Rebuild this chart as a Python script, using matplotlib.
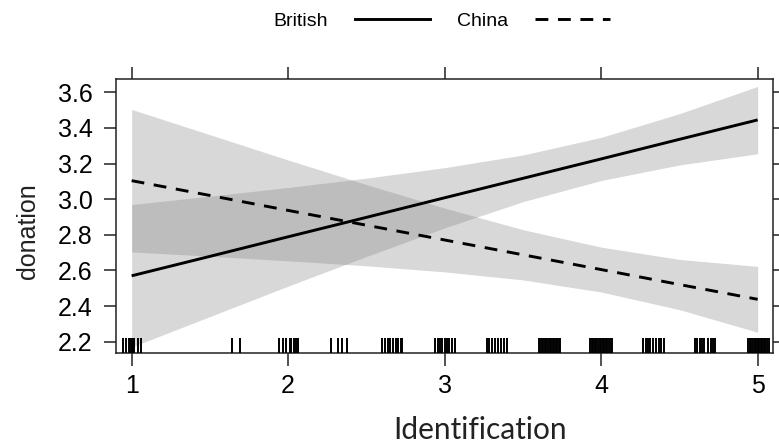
import matplotlib
matplotlib.use("Agg")
import matplotlib.pyplot as plt
import matplotlib.transforms as mtransforms
from matplotlib.lines import Line2D

# ---- data ------------------------------------------------------------------
ident = [1.0, 1.5, 2.0, 2.5, 3.0, 3.5, 4.0, 4.5, 5.0]

british_fit = [2.570, 2.679, 2.789, 2.898, 3.008, 3.117, 3.226, 3.336, 3.445]
british_lo = [2.170, 2.341, 2.512, 2.678, 2.839, 2.986, 3.105, 3.192, 3.255]
british_hi = [2.970, 3.017, 3.066, 3.118, 3.177, 3.248, 3.347, 3.480, 3.633]

china_fit = [3.104, 3.021, 2.937, 2.854, 2.771, 2.688, 2.605, 2.521, 2.438]
china_lo = [2.704, 2.680, 2.654, 2.626, 2.592, 2.547, 2.479, 2.380, 2.253]
china_hi = [3.504, 3.362, 3.220, 3.082, 2.950, 2.829, 2.731, 2.662, 2.623]

rug_x = [0.945, 0.966, 0.981, 0.99, 1.0, 1.006, 1.013, 1.038, 1.060,
         1.641, 1.694,
         1.943, 1.964, 1.986, 2.01, 2.02, 2.035, 2.05, 2.065,
         2.275, 2.32, 2.344, 2.375,
         2.60, 2.62, 2.635, 2.65, 2.67, 2.69, 2.705, 2.72, 2.73,
         2.94, 2.955, 2.97, 2.985, 3.0, 3.015, 3.03, 3.05, 3.065,
         3.27, 3.285, 3.30, 3.32, 3.34, 3.36, 3.38, 3.40,
         3.60, 3.61, 3.62, 3.63, 3.64, 3.65, 3.66, 3.67, 3.68, 3.69, 3.70,
         3.71, 3.72, 3.73, 3.74,
         3.93, 3.94, 3.95, 3.96, 3.97, 3.98, 3.99, 4.00, 4.01, 4.02, 4.03,
         4.04, 4.05, 4.06, 4.07,
         4.27, 4.285, 4.30, 4.315, 4.33, 4.35, 4.37, 4.385, 4.40,
         4.60, 4.615, 4.63, 4.645, 4.66, 4.68, 4.70, 4.715, 4.73,
         4.94, 4.95, 4.96, 4.97, 4.98, 4.99, 5.00, 5.01, 5.02, 5.03, 5.04,
         5.05, 5.06, 5.07]

x_ticks = [1, 2, 3, 4, 5]
y_ticks = [2.2, 2.4, 2.6, 2.8, 3.0, 3.2, 3.4, 3.6]

# ---- figure ----------------------------------------------------------------
plt.rcParams["font.family"] = ["Liberation Sans", "DejaVu Sans"]

fig = plt.figure(figsize=(7.79, 4.48), dpi=100)
ax = fig.add_axes([0.1489, 0.2114, 0.8438, 0.6116])

BAND = "#808080"
ax.fill_between(ident, british_lo, british_hi, color=BAND, alpha=0.3, lw=0, zorder=1)
ax.fill_between(ident, china_lo, china_hi, color=BAND, alpha=0.3, lw=0, zorder=1)
ax.plot(ident, british_fit, color="black", lw=2.1, zorder=3, solid_capstyle="butt")
ax.plot(ident, china_fit, color="black", lw=2.1, zorder=3,
        linestyle=(0, (4.4, 3.3)), dash_capstyle="butt")

# rug along the bottom
trans = mtransforms.blended_transform_factory(ax.transData, ax.transAxes)
for xv in rug_x:
    ax.plot([xv, xv], [0, 0.055], color="black", lw=1.4, transform=trans,
            zorder=4, clip_on=False, solid_capstyle="butt")

ax.set_xlim(0.9, 5.1)
ax.set_ylim(2.135, 3.673)
ax.set_xticks(x_ticks)
ax.set_yticks(y_ticks)
ax.set_yticklabels([f"{v:.1f}" for v in y_ticks])

for s in ax.spines.values():
    s.set_linewidth(1.1)
    s.set_color("#222222")

ax.tick_params(axis="both", direction="out", length=9, width=1.1,
               color="#222222", labelsize=18)
ax.tick_params(axis="x", top=True, labeltop=False, pad=6)
ax.tick_params(axis="y", right=True, labelright=False, pad=8)

ax.set_ylabel("donation", fontsize=18, color="#222222")
ax.yaxis.set_label_coords(-0.116, 0.446)
ax.set_xlabel("Identification", fontsize=21.5, color="#222222",
              family=["Lato", "DejaVu Sans"])
ax.xaxis.set_label_coords(0.554, -0.228)

# legend above the panel: label then line
handles = [Line2D([], [], color="black", lw=2.1),
           Line2D([], [], color="black", lw=2.1, linestyle=(0, (4.4, 3.3)))]
fig.legend(handles, ["British", "China"], loc="center",
           bbox_to_anchor=(0.567, 0.953), ncol=2, frameon=False,
           markerfirst=False, fontsize=14, handlelength=3.86,
           columnspacing=1.4, handletextpad=1.4)

fig.savefig("out.png", dpi=100, facecolor="white")
